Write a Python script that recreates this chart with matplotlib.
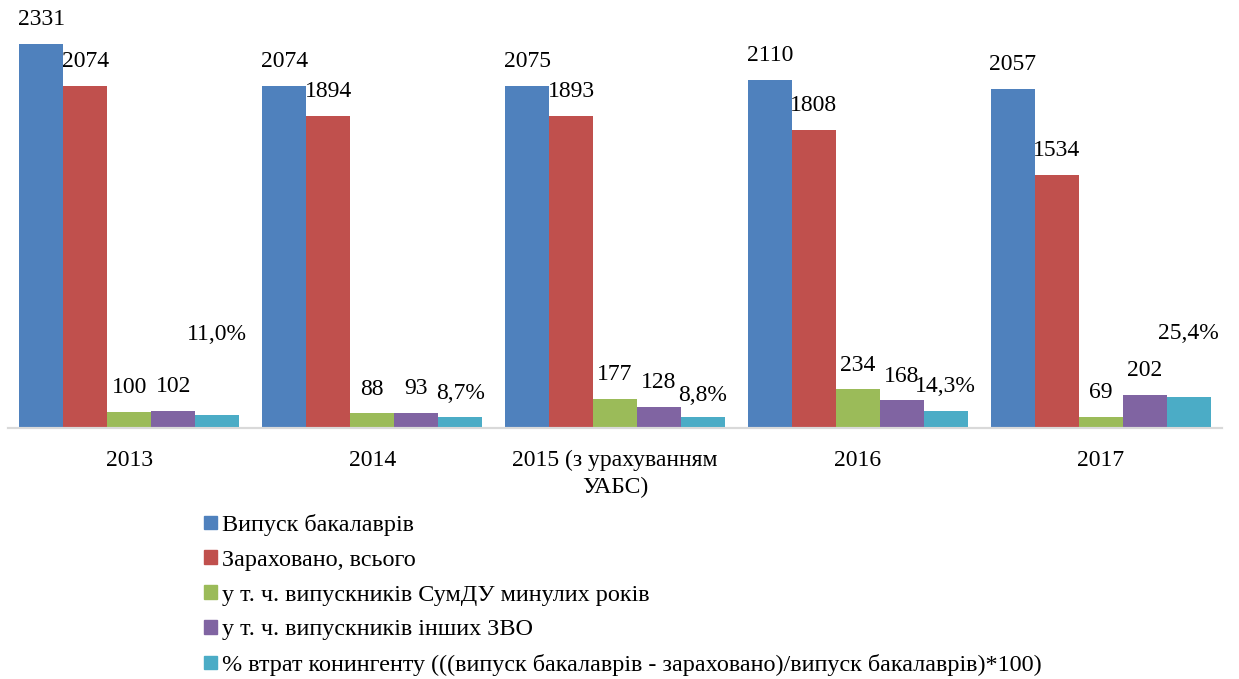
import matplotlib.pyplot as plt
import numpy as np
from matplotlib.patches import Rectangle

plt.rcParams['font.family'] = ['Liberation Serif', 'DejaVu Serif']

categories = ["2013", "2014", "2015 (з урахуванням\nУАБС)", "2016", "2017"]
series_names = [
    "Випуск бакалаврів",
    "Зараховано, всього",
    "у т. ч. випускників СумДУ минулих років",
    "у т. ч. випускників інших ЗВО",
    "% втрат конингенту (((випуск бакалаврів - зараховано)/випуск бакалаврів)*100)",
]
vypusk = [2331, 2074, 2075, 2110, 2057]
zarakhovano = [2074, 1894, 1893, 1808, 1534]
sumdu = [100, 88, 177, 234, 69]
inshi_zvo = [102, 93, 128, 168, 202]
vtraty_pct = [11.0, 8.7, 8.8, 14.3, 25.4]

colors = ["#4F81BD", "#C0504D", "#9BBB59", "#8064A2", "#4BACC6"]
# label offsets (points) for the % labels, Excel put some of them higher
pct_offsets = [58, 17, 16, 17, 46]

fig = plt.figure(figsize=(12.39, 6.79), dpi=100)
ax = fig.add_axes([8 / 1239, (679 - 428) / 679, 1214 / 1239, 412 / 679])
ax2 = ax.twinx()

x = np.arange(len(categories))
w = 44 / 243
counts = [vypusk, zarakhovano, sumdu, inshi_zvo]
for i, vals in enumerate(counts):
    pos = x + (i - 2) * w
    ax.bar(pos, vals, width=w, color=colors[i], zorder=2)
    for px, v in zip(pos, vals):
        ax.annotate(str(v), (px, v), xytext=(0, 17.5), textcoords="offset points",
                    ha="center", va="center", fontsize=17, annotation_clip=False)

pos = x + 2 * w
ax2.bar(pos, vtraty_pct, width=w, color=colors[4], zorder=2)
for px, v, off in zip(pos, vtraty_pct, pct_offsets):
    ax2.annotate(f"{v:.1f}%".replace(".", ","), (px, v), xytext=(0, off),
                 textcoords="offset points", ha="center", va="center",
                 fontsize=17, annotation_clip=False)

ax.set_xlim(-0.5, len(categories) - 0.5)
ax.set_ylim(0, 2500)
ax2.set_ylim(0, 338)
for a in (ax, ax2):
    for s in ("top", "right", "left"):
        a.spines[s].set_visible(False)
    a.spines["bottom"].set_color("#d9d9d9")
    a.spines["bottom"].set_linewidth(1.5)
    a.set_yticks([])
ax.set_xticks(x)
ax.set_xticklabels(categories, fontsize=17, linespacing=1.4)
ax.tick_params(axis="x", length=0, pad=15.5)

handles = [Rectangle((0, 0), 1, 1, color=c) for c in colors]
fig.legend(handles, series_names, loc="upper left", bbox_to_anchor=(204 / 1239, 1 - 514 / 679),
           frameon=False, fontsize=17.4, handlelength=0.55, handleheight=0.5,
           handletextpad=0.2, labelspacing=0.57, borderaxespad=0, borderpad=0)

fig.savefig("out.png", dpi=100)
